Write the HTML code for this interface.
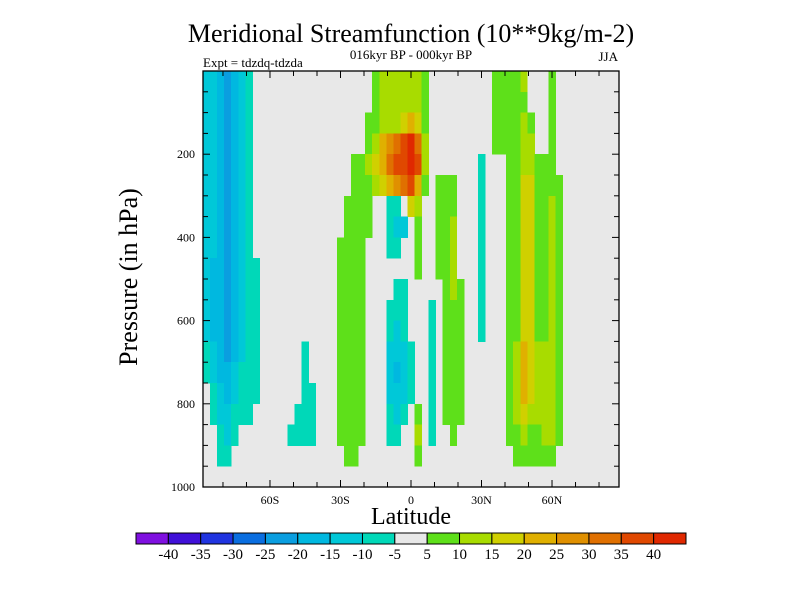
<!DOCTYPE html>
<html><head><meta charset="utf-8"><style>
html,body{margin:0;padding:0;background:#fff;}
svg{display:block;}
text{font-family:"Liberation Serif",serif;fill:#000;}
</style></head><body>
<svg id="chart" width="800" height="600" viewBox="0 0 800 600">
<text x="411" y="42" font-size="26" text-anchor="middle">Meridional Streamfunction (10**9kg/m-2)</text>
<text x="411" y="59" font-size="13" text-anchor="middle">016kyr BP - 000kyr BP</text>
<text x="203" y="67" font-size="13">Expt = tdzdq-tdzda</text>
<text x="618" y="61" font-size="13" text-anchor="end">JJA</text>
<text x="0" y="0" font-size="26" text-anchor="middle" transform="translate(137,277) rotate(-90)">Pressure (in hPa)</text>
<text x="411" y="524" font-size="24" text-anchor="middle">Latitude</text>
<g id="cells"></g>
<g id="axes"></g>
<g id="cbar"></g>
</svg>
<script>
const lats = [];
for (let i = 0; i < 59; i++) lats.push(-87 + 3 * i);
const pressures = [25,75,125,175,225,275,325,375,425,475,525,575,625,675,725,775,825,875,925,975];
const contourLevels = [-40,-35,-30,-25,-20,-15,-10,-5,5,10,15,20,25,30,35,40];
const levelLabels = ["-40","-35","-30","-25","-20","-15","-10","-5","5","10","15","20","25","30","35","40"];
const levelColors = ["#7f10e0","#4010d8","#2034e0","#0a6ee0","#0a9ee0","#00b8e0","#00c8d8","#00d8b8","#e8e8e8","#5ee01a","#a8dc00","#d0d000","#e0b000","#e09000","#e07000","#e04800","#e02800"];
const xTickValues = [-80,-70,-60,-50,-40,-30,-20,-10,0,10,20,30,40,50,60,70,80];
const xTickLabels = {"-60":"60S","-30":"30S","0":"0","30":"30N","60":"60N"};
const yTickValues = [50,100,150,200,250,300,350,400,450,500,550,600,650,700,750,800,850,900,950,1000];
const yTickLabels = {"200":"200","400":"400","600":"600","800":"800","1000":"1000"};
const psi = [
[-12,-12,-17,-22,-17,-12,-7,0, 0,0,0,0,0,0,0,0,0,0,0, 0,0,0,0,0,7,12,12,12,12,12,12,7, 0,0,0,0,0,0,0,0,0, 7,7,7,7,12,0,0,0,7,0,0, 0,0,0,0,0,0,0],
[-12,-12,-17,-22,-17,-12,-7,0, 0,0,0,0,0,0,0,0,0,0,0, 0,0,0,0,0,7,12,12,12,12,12,12,7, 0,0,0,0,0,0,0,0,0, 7,7,7,7,7,0,0,0,7,0,0, 0,0,0,0,0,0,0],
[-12,-12,-17,-22,-17,-12,-7,0, 0,0,0,0,0,0,0,0,0,0,0, 0,0,0,0,7,7,12,12,12,17,22,17,7, 0,0,0,0,0,0,0,0,0, 7,7,7,7,12,7,0,0,7,0,0, 0,0,0,0,0,0,0],
[-12,-12,-17,-22,-17,-12,-7,0, 0,0,0,0,0,0,0,0,0,0,0, 0,0,0,0,7,12,22,27,32,37,42,32,12, 0,0,0,0,0,0,0,0,0, 7,7,7,7,12,12,0,0,7,0,0, 0,0,0,0,0,0,0],
[-12,-12,-17,-22,-17,-12,-7,0, 0,0,0,0,0,0,0,0,0,0,0, 0,0,7,7,12,17,22,32,37,37,42,37,12, 0,0,0,0,0,0,0,-7,0, 0,0,7,7,12,12,7,7,7,0,0, 0,0,0,0,0,0,0],
[-12,-12,-17,-22,-17,-12,-7,0, 0,0,0,0,0,0,0,0,0,0,0, 0,0,7,7,7,12,17,22,27,32,37,22,7, 0,7,7,7,0,0,0,-7,0, 0,0,7,7,17,17,7,7,7,7,0, 0,0,0,0,0,0,0],
[-12,-12,-17,-22,-17,-12,-7,0, 0,0,0,0,0,0,0,0,0,0,0, 0,7,7,7,7,0,0,-7,-7,0,17,12,0, 0,7,7,7,0,0,0,-7,0, 0,0,7,7,17,17,7,7,12,7,0, 0,0,0,0,0,0,0],
[-12,-12,-17,-22,-17,-12,-7,0, 0,0,0,0,0,0,0,0,0,0,0, 0,7,7,7,7,0,0,-7,-12,-12,0,7,0, 0,7,7,12,0,0,0,-7,0, 0,0,7,7,17,17,7,7,12,7,0, 0,0,0,0,0,0,0],
[-12,-12,-17,-22,-17,-12,-7,0, 0,0,0,0,0,0,0,0,0,0,0, 7,7,7,7,0,0,0,-7,-7,0,0,7,0, 0,7,7,12,0,0,0,-7,0, 0,0,7,7,17,17,7,7,12,7,0, 0,0,0,0,0,0,0],
[-12,-17,-17,-22,-17,-12,-7,-7, 0,0,0,0,0,0,0,0,0,0,0, 7,7,7,7,0,0,0,0,0,0,0,7,0, 0,7,7,12,0,0,0,-7,0, 0,0,7,7,17,17,7,7,12,7,0, 0,0,0,0,0,0,0],
[-12,-17,-17,-22,-17,-12,-7,-7, 0,0,0,0,0,0,0,0,0,0,0, 7,7,7,7,0,0,0,0,-7,-7,0,0,0, 0,0,7,12,7,0,0,-7,0, 0,0,7,7,17,17,7,7,12,7,0, 0,0,0,0,0,0,0],
[-12,-17,-17,-22,-17,-12,-7,-7, 0,0,0,0,0,0,0,0,0,0,0, 7,7,7,7,0,0,0,-7,-7,-7,0,0,0, -7,0,7,7,7,0,0,-7,0, 0,0,7,7,17,17,7,7,12,7,0, 0,0,0,0,0,0,0],
[-12,-17,-17,-22,-17,-12,-7,-7, 0,0,0,0,0,0,0,0,0,0,0, 7,7,7,7,0,0,0,-7,-12,-7,0,0,0, -7,0,7,7,7,0,0,-7,0, 0,0,7,7,17,17,7,7,12,7,0, 0,0,0,0,0,0,0],
[-7,-12,-17,-22,-17,-12,-7,-7, 0,0,0,0,0,0,-7,0,0,0,0, 7,7,7,7,0,0,0,-12,-12,-12,-7,0,0, -7,0,7,7,7,0,0,0,0, 0,0,7,12,22,17,12,12,12,7,0, 0,0,0,0,0,0,0],
[-7,-12,-17,-17,-12,-7,-7,-7, 0,0,0,0,0,0,-7,0,0,0,0, 7,7,7,7,0,0,0,-12,-17,-12,-7,0,0, -7,0,7,7,7,0,0,0,0, 0,0,7,12,22,17,12,12,12,7,0, 0,0,0,0,0,0,0],
[0,-7,-12,-17,-12,-7,-7,-7, 0,0,0,0,0,0,-7,-7,0,0,0, 7,7,7,7,0,0,0,-12,-12,-12,-7,0,0, -7,0,7,7,7,0,0,0,0, 0,0,7,12,22,17,12,12,12,7,0, 0,0,0,0,0,0,0],
[0,-7,-12,-12,-7,-7,-7,0, 0,0,0,0,0,-7,-7,-7,0,0,0, 7,7,7,7,0,0,0,-7,-12,-7,0,7,0, -7,0,7,7,7,0,0,0,0, 0,0,7,12,17,12,12,12,12,7,0, 0,0,0,0,0,0,0],
[0,0,-7,-12,-7,0,0,0, 0,0,0,0,-7,-7,-7,-7,0,0,0, 7,7,7,7,0,0,0,-7,-7,0,0,12,0, -7,0,0,7,0,0,0,0,0, 0,0,7,7,12,7,7,12,12,7,0, 0,0,0,0,0,0,0],
[0,0,-7,-7,0,0,0,0, 0,0,0,0,0,0,0,0,0,0,0, 0,7,7,0,0,0,0,0,0,0,0,7,0, 0,0,0,0,0,0,0,0,0, 0,0,0,7,7,7,7,7,7,0,0, 0,0,0,0,0,0,0],
[0,0,0,0,0,0,0,0, 0,0,0,0,0,0,0,0,0,0,0, 0,0,0,0,0,0,0,0,0,0,0,0,0, 0,0,0,0,0,0,0,0,0, 0,0,0,0,0,0,0,0,0,0,0, 0,0,0,0,0,0,0]
];

const NS = "http://www.w3.org/2000/svg";
const X0 = 203, X1 = 619, Y0 = 71, Y1 = 487;
const xScale = lat => X0 + (lat + 88.5) / 177 * (X1 - X0);
const yScale = p => Y0 + p / 1000 * (Y1 - Y0);
function colorFor(v) {
  let idx = 0;
  while (idx < contourLevels.length && v >= contourLevels[idx]) idx++;
  return levelColors[idx];
}
function mk(tag, attrs, parent) {
  const el = document.createElementNS(NS, tag);
  for (const k in attrs) el.setAttribute(k, attrs[k]);
  parent.appendChild(el);
  return el;
}
const cells = document.getElementById('cells');
const bg = mk('rect', {x: X0, y: Y0, width: X1 - X0, height: Y1 - Y0, fill: levelColors[8]}, cells);


for (let j = 0; j < pressures.length; j++) {
  for (let i = 0; i < lats.length; i++) {
    const v = psi[j][i];
    const c = colorFor(v);
    if (c === levelColors[8]) continue;
    const x = xScale(lats[i] - 1.5), x2 = xScale(lats[i] + 1.5);
    const y = yScale(pressures[j] - 25), y2 = yScale(pressures[j] + 25);
    const r = mk('rect', {x: x, y: y, width: x2 - x + 0.4, height: y2 - y + 0.4, fill: c, 'shape-rendering': 'crispEdges'}, cells);
    
    
  }
}
const axes = document.getElementById('axes');
const frame = mk('rect', {x: X0, y: Y0, width: X1 - X0, height: Y1 - Y0, fill: 'none', stroke: '#000', 'stroke-width': 1.3}, axes);


xTickValues.forEach(t => {
  const x = xScale(t);
  const major = xTickLabels[String(t)] !== undefined;
  const len = major ? 7 : 5;
  mk('line', {x1: x, x2: x, y1: Y1, y2: Y1 - len, stroke: '#000', 'stroke-width': 1}, axes);
  mk('line', {x1: x, x2: x, y1: Y0, y2: Y0 + len, stroke: '#000', 'stroke-width': 1}, axes);
  if (major) {
    const tx = mk('text', {x: x, y: Y1 + 17, 'font-size': 12, 'text-anchor': 'middle'}, axes);
    tx.textContent = xTickLabels[String(t)];
    
    
  }
});
yTickValues.forEach(t => {
  const y = yScale(t);
  const major = yTickLabels[String(t)] !== undefined;
  const len = major ? 7 : 5;
  mk('line', {x1: X0, x2: X0 + len, y1: y, y2: y, stroke: '#000', 'stroke-width': 1}, axes);
  mk('line', {x1: X1, x2: X1 - len, y1: y, y2: y, stroke: '#000', 'stroke-width': 1}, axes);
  if (major) {
    const tx = mk('text', {x: X0 - 8, y: y + 4, 'font-size': 12, 'text-anchor': 'end'}, axes);
    tx.textContent = yTickLabels[String(t)];
    
    
  }
});
const cbar = document.getElementById('cbar');
const CB0 = 136, CB1 = 686, CBY = 533, CBH = 11;
const bw = (CB1 - CB0) / levelColors.length;
levelColors.forEach((c, k) => {
  const r = mk('rect', {x: CB0 + k * bw, y: CBY, width: bw, height: CBH, fill: c, stroke: '#000', 'stroke-width': 1}, cbar);
  
  
});
levelLabels.forEach((l, k) => {
  const tx = mk('text', {x: CB0 + (k + 1) * bw, y: 559, 'font-size': 15, 'text-anchor': 'middle'}, cbar);
  tx.textContent = l;
  
  
});
</script>
</body></html>
